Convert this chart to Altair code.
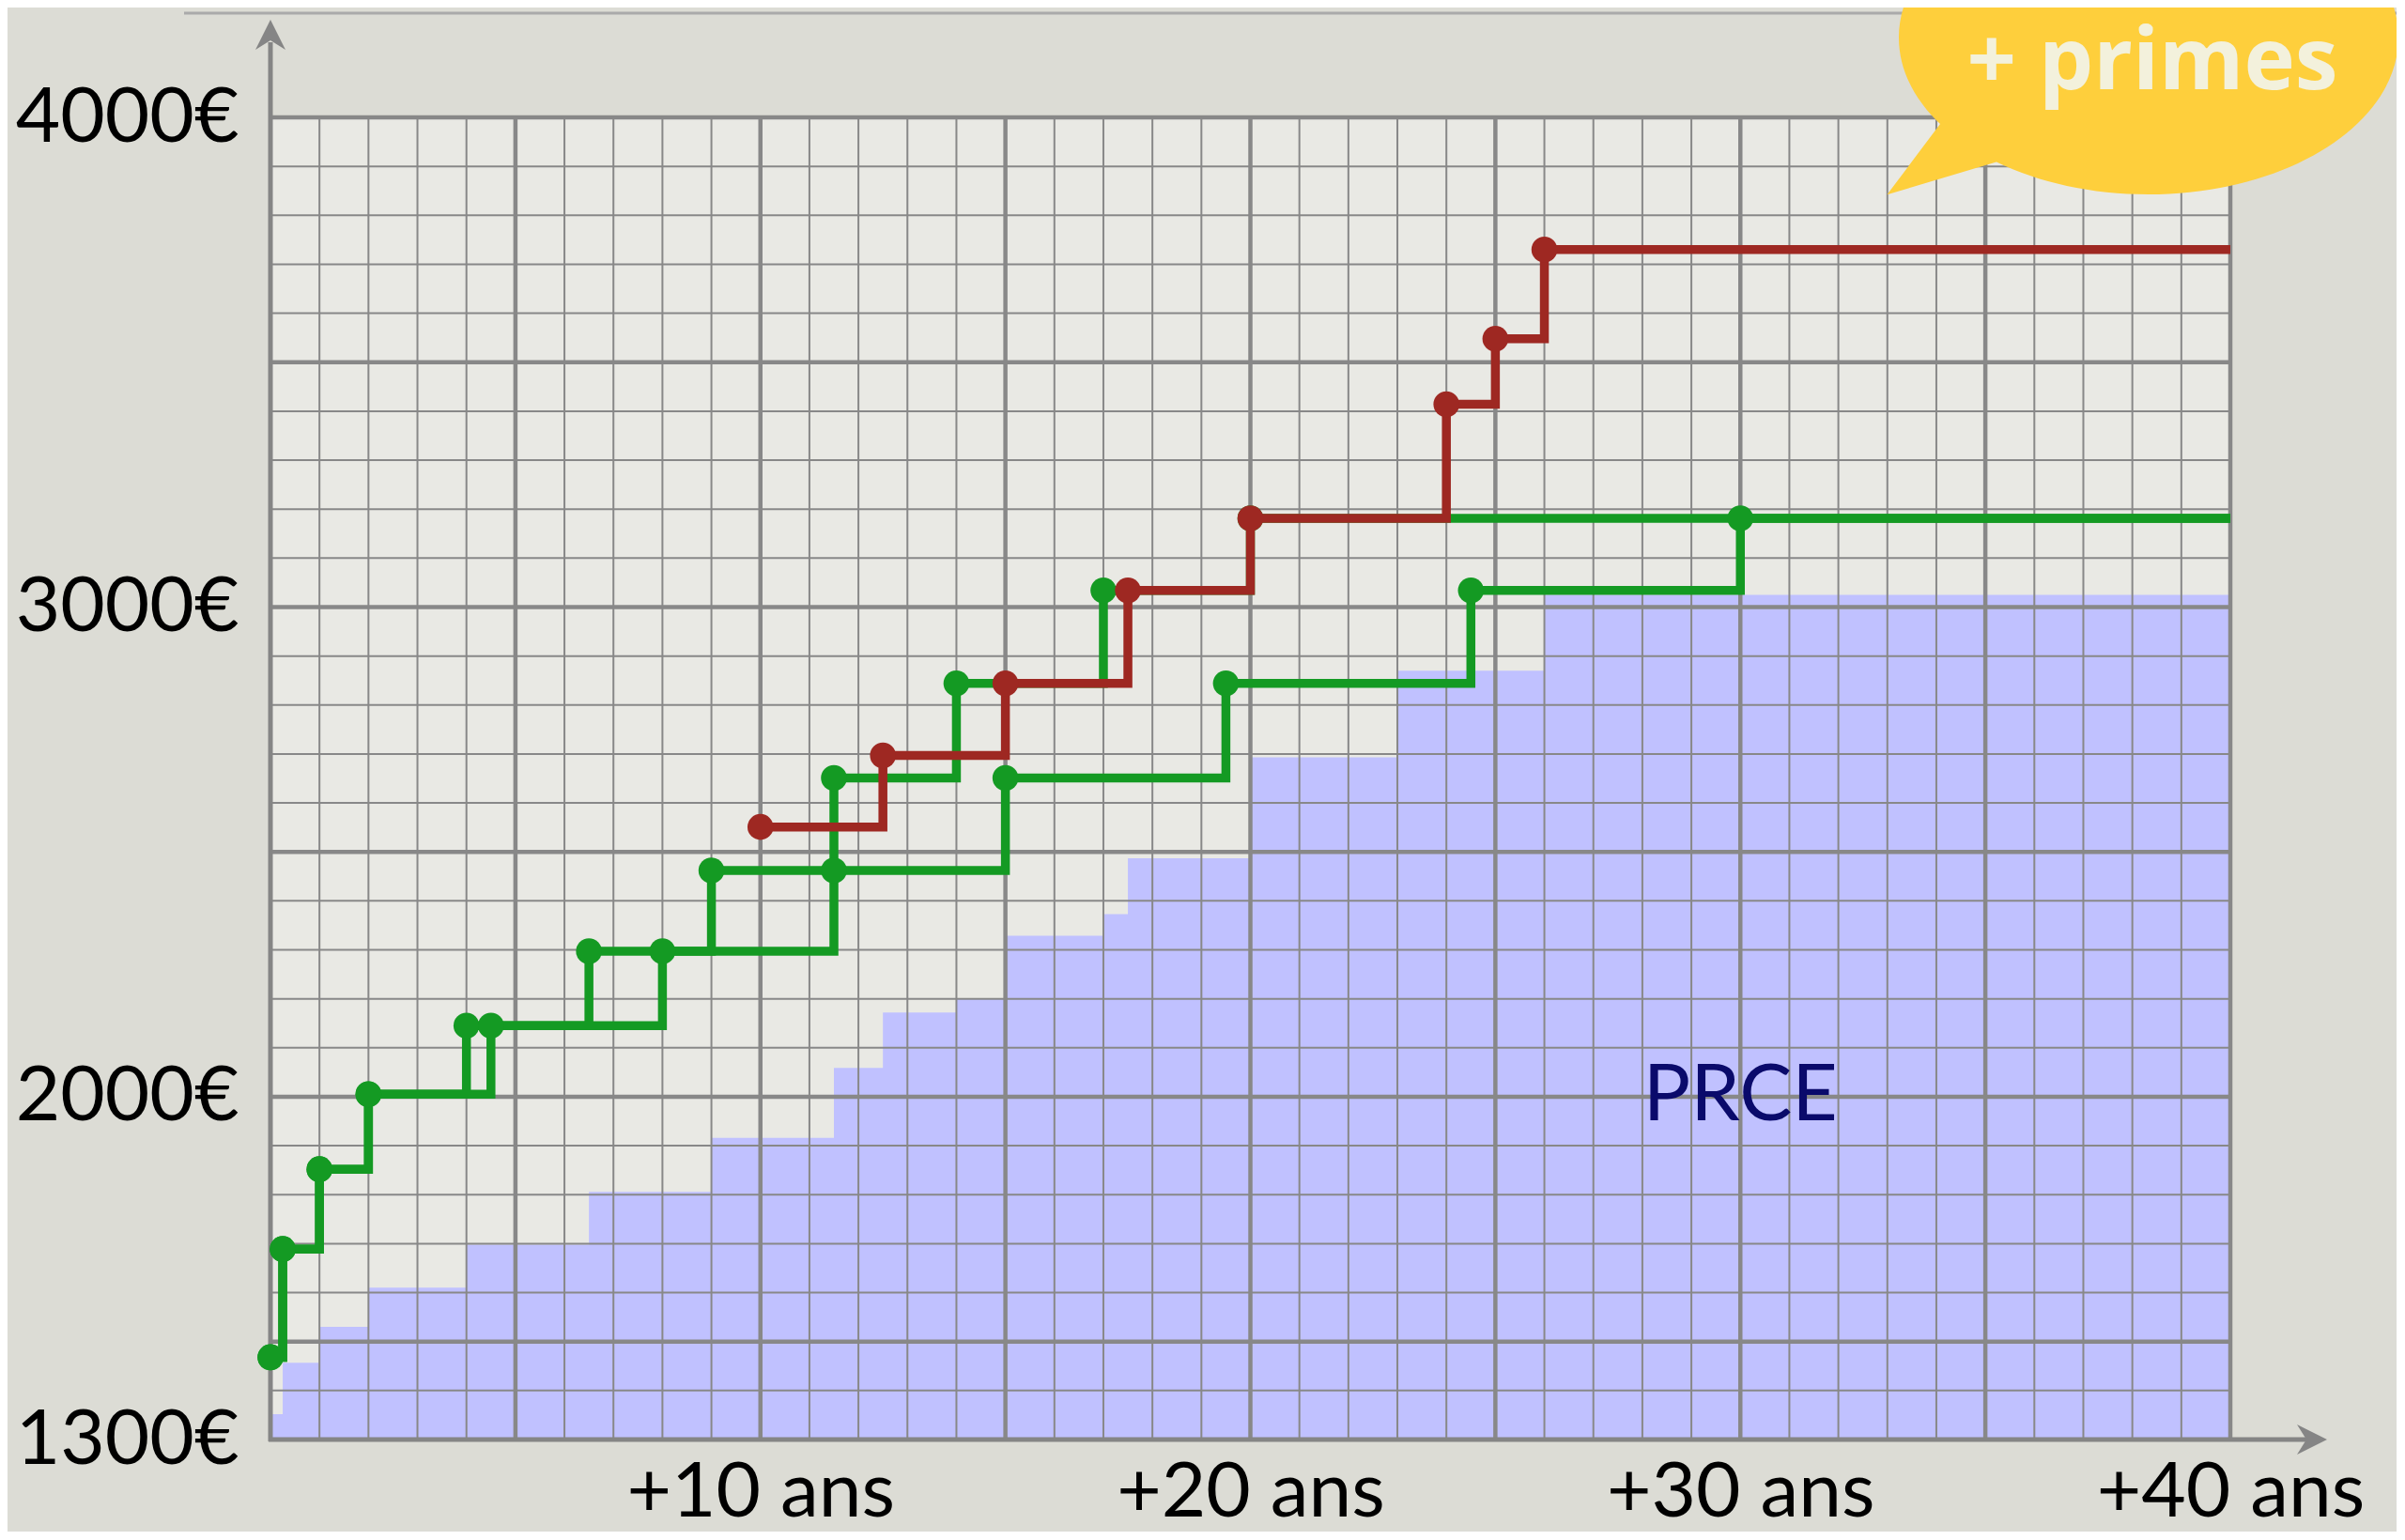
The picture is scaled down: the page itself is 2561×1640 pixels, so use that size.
import altair as alt
import pandas as pd

# ---------------- data ----------------
# PRCE salary grid (blue staircase): year where each step starts, monthly €
prce_years = [0, 0.25, 1, 2, 4, 6.5, 9, 11.5, 12.5, 14, 15, 17, 17.5, 20, 23, 26, 40]
prce_values = [1352, 1457, 1530, 1610, 1698, 1806, 1916, 2059, 2172, 2201, 2329,
               2373, 2487, 2693, 2870, 3025, 3025]

# green career paths (fast and slow advancement)
fast_years = [0, 0.25, 1, 2, 4, 6.5, 9, 11.5, 14, 17, 20, 40]
fast_values = [1468, 1689, 1852, 2005, 2145, 2297, 2462, 2651, 2844, 3034, 3181, 3181]
slow_years = [0, 0.25, 1, 2, 4.5, 8, 11.5, 15, 19.5, 24.5, 30, 40]
slow_values = [1468, 1689, 1852, 2005, 2145, 2297, 2462, 2651, 2844, 3034, 3181, 3181]

# red path
red_years = [10, 12.5, 15, 17.5, 20, 24, 25, 26, 40]
red_values = [2551, 2697, 2844, 3034, 3181, 3414, 3548, 3730, 3730]

# tick / grid values
x_label_values = [10, 20, 30, 40]
y_label_values = [1300, 2000, 3000, 4000]
year_grid = list(range(1, 41))
euro_grid = list(range(1400, 4001, 100))

# text annotations
area_label = ["PRCE"]
area_label_year = [30]
area_label_value = [2000]
bubble_text = "+ primes"

# ---------------- style ----------------
GREEN = "#149a23"
RED = "#9e2822"
BLUE = "#c0c1ff"
GRID = "#888888"
AXIS = "#858585"
FONT = "Lato"

PLOT_W, PLOT_H = 2087, 1408


def steps(years, values, name):
    n = len(years)
    return pd.DataFrame({
        "year": years,
        "value": values,
        "series": name,
        "dot": [i < n - 1 for i in range(n)],
    })


prce_df = pd.DataFrame({"year": prce_years, "value": prce_values})
green_df = pd.concat([steps(fast_years, fast_values, "rapide"),
                      steps(slow_years, slow_values, "lent")], ignore_index=True)
red_df = steps(red_years, red_values, "rouge")
xgrid_df = pd.DataFrame({"year": year_grid})
ygrid_df = pd.DataFrame({"value": euro_grid})
label_df = pd.DataFrame({"text": area_label, "year": area_label_year, "value": area_label_value})
one = pd.DataFrame({"k": [0]})

x_scale = alt.Scale(domain=[0, 40], nice=False, zero=False)
y_scale = alt.Scale(domain=[1300, 4000], nice=False, zero=False)

x_axis = alt.Axis(values=x_label_values, labelExpr="'+' + datum.value + ' ans'",
                  domain=False, ticks=False, grid=False, title=None,
                  labelFont=FONT, labelFontSize=82, labelColor="#000000",
                  labelPadding=16, labelFlush=False, labelOverlap=False, labelLimit=0)
y_axis = alt.Axis(values=y_label_values, labelExpr="datum.value + '€'",
                  domain=False, ticks=False, grid=False, title=None,
                  labelFont=FONT, labelFontSize=82, labelColor="#000000",
                  labelPadding=34, labelFlush=False, labelOverlap=False, labelLimit=0)

X = alt.X("year:Q", scale=x_scale, axis=x_axis)
Y = alt.Y("value:Q", scale=y_scale, axis=y_axis)

area = alt.Chart(prce_df).mark_area(interpolate="step-after", color=BLUE, opacity=1).encode(
    x=X, y=Y, y2=alt.datum(1300))

xgrid = alt.Chart(xgrid_df).mark_rule(color=GRID).encode(
    x=X,
    strokeWidth=alt.condition("datum.year % 5 === 0", alt.value(4.5), alt.value(2)))
ygrid = alt.Chart(ygrid_df).mark_rule(color=GRID).encode(
    y=Y,
    strokeWidth=alt.condition("datum.value % 500 === 0", alt.value(4.5), alt.value(2)))

# axis lines with arrows
y_axis_line = alt.Chart(one).mark_rule(color=AXIS, strokeWidth=5).encode(
    x=alt.value(0), y=alt.value(PLOT_H + 2), y2=alt.value(-80))
x_axis_line = alt.Chart(one).mark_rule(color=AXIS, strokeWidth=5).encode(
    x=alt.value(-2), x2=alt.value(2170), y=alt.value(PLOT_H))
up_arrow = alt.Chart(one).mark_point(
    shape="M 0 -1 L 1 1 L 0 0.375 L -1 1 Z", filled=True, size=1024,
    color=AXIS, opacity=1, strokeWidth=0).encode(x=alt.value(0), y=alt.value(-88))
right_arrow = alt.Chart(one).mark_point(
    shape="M 1 0 L -1 -1 L -0.375 0 L -1 1 Z", filled=True, size=1024,
    color=AXIS, opacity=1, strokeWidth=0).encode(x=alt.value(2174), y=alt.value(PLOT_H))

green_lines = alt.Chart(green_df).mark_line(
    interpolate="step-after", strokeWidth=9.5, color=GREEN).encode(
    x=X, y=Y, detail="series:N")
green_dots = alt.Chart(green_df).transform_filter("datum.dot").mark_circle(
    size=760, color=GREEN, opacity=1).encode(x=X, y=Y)
red_line = alt.Chart(red_df).mark_line(
    interpolate="step-after", strokeWidth=9.5, color=RED).encode(x=X, y=Y)
red_dots = alt.Chart(red_df).transform_filter("datum.dot").mark_circle(
    size=760, color=RED, opacity=1).encode(x=X, y=Y)

prce_text = alt.Chart(label_df).mark_text(
    font=FONT, fontSize=84, color="#0a0a6b", align="center", baseline="middle").encode(
    x=X, y=Y, text="text:N")

# slide decorations
top_line = alt.Chart(one).mark_rule(color="#aaaaaa", strokeWidth=3).encode(
    x=alt.value(-92), x2=alt.value(2300), y=alt.value(-111))
bubble = alt.Chart(one).mark_point(
    shape=("M -1 0 A 1 0.628 0 1 1 1 0 A 1 0.628 0 1 1 -1 0 Z "
           "M -0.80 0.30 L -0.55 0.48 L -1.047 0.629 Z"),
    filled=True, size=532 * 532, color="#fecf3c", opacity=1, strokeWidth=0).encode(
    x=alt.value(2000), y=alt.value(-85))
bubble_label = alt.Chart(one).mark_text(
    text=bubble_text, font="Open Sans", fontWeight="bold", fontSize=92,
    color="#f3f1dc", align="center", baseline="alphabetic").encode(
    x=alt.value(2004), y=alt.value(-30))

chart = alt.layer(
    area, xgrid, ygrid, y_axis_line, x_axis_line, up_arrow, right_arrow,
    green_lines, green_dots, red_line, red_dots, prce_text,
    top_line, bubble, bubble_label
).properties(
    width=PLOT_W, height=PLOT_H,
    padding={"left": 280, "top": 117, "right": 177, "bottom": 98},
    autosize=alt.AutoSizeParams(type="none"),
).configure(background="#dcdcd5").configure_view(fill="#e9e9e4", stroke=None)

chart.save("out.html", embed_options={"renderer": "svg", "actions": False})
